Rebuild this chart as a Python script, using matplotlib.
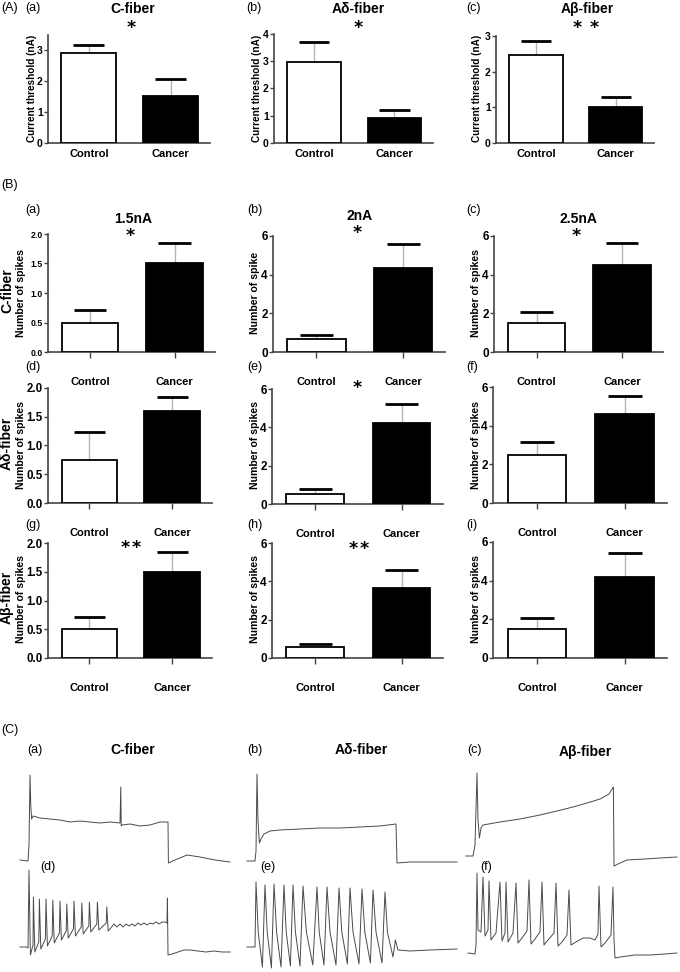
import matplotlib
matplotlib.use('Agg')
import matplotlib.pyplot as plt
import numpy as np

plt.rcParams['font.family'] = ['Liberation Sans', 'DejaVu Sans']

# ---------------- data ----------------
groups = ['Control', 'Cancer']

# Panel A: current threshold (nA), mean and mean+SEM
A_titles = ['C-fiber', 'Aδ-fiber', 'Aβ-fiber']
A_means = [[2.92, 1.53], [2.97, 0.92], [2.47, 1.00]]
A_upper = [[3.18, 2.08], [3.72, 1.20], [2.85, 1.28]]
A_ymax = [3.5, 4, 3]
A_yticks = [[0, 1, 2, 3], [0, 1, 2, 3, 4], [0, 1, 2, 3]]

# Panel B: number of spikes at 1.5/2/2.5 nA (rows: fibre type)
B_titles = ['1.5nA', '2nA', '2.5nA']
B_rows = ['C-fiber', 'Aδ-fiber', 'Aβ-fiber']
B_means = [[[0.50, 1.50], [0.65, 4.35], [1.50, 4.50]],
           [[0.75, 1.60], [0.50, 4.20], [2.50, 4.60]],
           [[0.50, 1.50], [0.55, 3.65], [1.50, 4.20]]]
B_upper = [[[0.72, 1.84], [0.87, 5.60], [2.07, 5.65]],
           [[1.23, 1.84], [0.80, 5.22], [3.15, 5.55]],
           [[0.72, 1.84], [0.72, 4.58], [2.05, 5.45]]]
B_ylabels = [['Number of spikes', 'Number of spike', 'Number of spikes'],
             ['Number of spikes', 'Number of spikes', 'Number of spikes'],
             ['Number of spikes', 'Number of spikes', 'Number of spikes']]

# Panel C: representative voltage traces (time ms, membrane potential mV)
Ca_t = [10, 50, 55, 60, 64, 68, 75, 110, 160, 210, 260, 310, 360, 410, 460, 510, 514, 516, 520, 560,
        610, 660, 710, 750, 752, 785, 845, 910, 985, 1060]
Ca_v = [-59, -60, -44, 26, -5, -18, -15, -17, -18, -19, -21, -20, -21, -22, -21, -22, 14, -25, -24, -23,
        -25, -24, -21, -21, -62, -59, -54, -56, -59, -61]

Cb_t = [10, 50, 55, 60, 65, 72, 80, 95, 125, 175, 275, 375, 475, 575, 675, 755, 760, 825, 925, 1060]
Cb_v = [-60, -60, -50, 27, -20, -42, -38, -33, -30, -29, -28, -27, -27, -26, -25, -23, -62, -61, -61, -61]

Cc_t = [5, 40, 50, 60, 65, 72, 80, 90, 175, 275, 375, 460, 540, 610, 675, 720, 742, 745, 765, 810,
        900, 975, 1060]
Cc_v = [-60, -60, -49, 23, -24, -42, -32, -29, -26, -23, -19, -15, -11, -7, -3, 2, 9, -70, -68, -64,
        -63, -62, -61]

Cd_t = [10, 45, 50, 55, 62, 75, 77, 84, 104, 107, 114, 137, 140, 147, 171, 174, 181, 207, 210, 217,
        241, 244, 251, 277, 280, 287, 316, 319, 326, 354, 357, 364, 394, 397, 404, 441, 444, 451, 460, 480,
        495, 510, 525, 540, 555, 570, 585, 600, 615, 630, 645, 660, 675, 690, 705, 720, 735, 745, 747, 750,
        770, 800, 830, 860, 900, 940, 980, 1020, 1060]
Cd_v = [-60, -60, -61, 17, -68, -58, -10, -65, -55, -12, -62, -52, -12, -59, -49, -13, -56, -46, -14, -53,
        -44, -17, -51, -42, -14, -49, -40, -16, -47, -39, -15, -45, -37, -15, -43, -36, -20, -44, -42, -37,
        -40, -37, -40, -37, -39, -37, -39, -36, -38, -36, -38, -36, -37, -35, -37, -35, -35, -36, -11, -68,
        -67, -65, -63, -63, -64, -65, -64, -65, -65]

Ce_t = [10, 50, 55, 66, 87, 100, 111, 132, 145, 158, 180, 195, 206, 227, 240, 252, 275, 290, 307, 339,
        360, 371, 395, 410, 425, 455, 470, 484, 512, 525, 540, 570, 585, 599, 627, 640, 655, 685, 700, 712,
        740, 752, 765, 825, 925, 1060]
Ce_v = [-60, -60, 5, -45, -80, 2, -45, -81, 3, -45, -80, 2, -45, -79, 2, -45, -79, 1, -45, -78,
        0, -45, -78, 0, -45, -78, -1, -45, -77, -1, -45, -77, -2, -45, -76, -3, -45, -76, -5, -45,
        -70, -53, -63, -64, -63, -62]

Cf_t = [15, 50, 55, 60, 65, 80, 90, 100, 115, 120, 130, 155, 175, 185, 200, 205, 215, 240, 255, 265,
        285, 310, 320, 330, 350, 375, 385, 395, 415, 445, 455, 465, 485, 510, 520, 530, 555, 590, 625, 650,
        665, 670, 680, 700, 730, 740, 745, 750, 775, 850, 925, 1000, 1060]
Cf_v = [-60, -61, -52, 20, -37, -39, 16, -43, -37, 12, -47, -40, 11, -48, -40, 11, -49, -40, 10, -50,
        -45, -38, 13, -51, -46, -39, 11, -52, -47, -40, 10, -53, -49, -42, 3, -52, -49, -45, -45, -47,
        -41, 7, -54, -50, -42, 6, -47, -65, -64, -62, -62, -61, -60]

# ---------------- figure ----------------
W, H = 680, 972
fig = plt.figure(figsize=(W / 100, H / 100), dpi=100)
SP = '#444444'


def add_ax(l, t, r, b):
    return fig.add_axes([l / W, 1 - b / H, (r - l) / W, (b - t) / H])


def ftxt(x, y, s, **kw):
    kw.setdefault('va', 'center')
    fig.text(x / W, 1 - y / H, s, **kw)


def star(x, y):
    fig.text(x / W, 1 - (y + 10) / H, '*', family='DejaVu Sans', fontweight='bold',
             fontsize=12.5, ha='center', va='baseline')


def bars(ax, means, upper, ymax, yticks, yfmt, ylsize, xpad, xtlen):
    x = np.arange(len(groups))
    ax.bar(x, means, width=0.67, color=['white', 'black'], edgecolor='black',
           linewidth=1.3, zorder=3)
    ax.vlines(x, means, upper, color='#b5b5b5', lw=1.0, zorder=2)
    ax.hlines(upper, x - 0.19, x + 0.19, color='black', lw=2.0, zorder=4)
    ax.set_xlim(-0.5, 1.48)
    ax.set_ylim(0, ymax)
    ax.set_xticks(x)
    ax.set_xticklabels(groups, fontweight='bold', fontsize=8)
    ax.set_yticks(yticks)
    ax.set_yticklabels([yfmt.format(v) for v in yticks], fontweight='bold', fontsize=ylsize)
    for s in ['top', 'right']:
        ax.spines[s].set_visible(False)
    for s in ['left', 'bottom']:
        ax.spines[s].set_color(SP)
        ax.spines[s].set_linewidth(1.2)
    ax.tick_params(axis='y', length=3, width=1, color=SP, pad=0.8)
    ax.tick_params(axis='x', length=xtlen, width=1, color=SP, pad=xpad)
    ax.patch.set_visible(False)


# ---- Panel A ----
A_boxes = [(48, 35, 210, 143), (274, 34, 433, 143), (496, 36, 654, 143)]
A_lab_x = [25, 246, 466]
A_title_x = [133, 358, 587]
A_ylab_x = [32, 257, 477]
A_stars = [[131], [358], [577, 594]]
ftxt(1, 8, '(A)', fontsize=9)
for i in range(3):
    ax = add_ax(*A_boxes[i])
    bars(ax, A_means[i], A_upper[i], A_ymax[i], A_yticks[i], '{:g}', 7.5, 4, 0)
    ftxt(A_lab_x[i], 8, '(' + 'abc'[i] + ')', fontsize=9)
    ftxt(A_title_x[i], 9, A_titles[i], fontsize=10, fontweight='bold', ha='center')
    ftxt(A_ylab_x[i], 88, 'Current threshold (nA)', fontsize=7.2, fontweight='bold',
         rotation=90, ha='center')
    for sx in A_stars[i]:
        star(sx, 23)

# ---- Panel B ----
B_boxes = [[(48, 234, 215, 352), (273, 236, 445, 352), (494, 236, 663, 352)],
           [(48, 388, 212, 503), (272, 389, 443, 504), (493, 387, 667, 503)],
           [(48, 543, 212, 658), (272, 543, 443, 658), (493, 542, 667, 658)]]
B_lab_y = [210, 367, 525]
B_lab_x = [25, 247, 466]
B_ylab_x = [21.5, 255, 476]
B_ylab_y = [293, 445, 599]
B_row_lab_x = 7
B_title_y = [219, 216, 219]
B_title_x = [133, 360, 578]
B_stars = {(0, 0): ([130], 231), (0, 1): ([357], 228), (0, 2): ([576], 231),
           (1, 1): ([357], 383), (2, 0): ([125, 136], 543), (2, 1): ([353, 364], 544)}
ftxt(1, 185, '(B)', fontsize=9)
letters = 'abcdefghi'
for r in range(3):
    for c in range(3):
        ax = add_ax(*B_boxes[r][c])
        if c == 0:
            yt, fmt, ls, ymax = [0, 0.5, 1.0, 1.5, 2.0], '{:.1f}', (6.3 if r == 0 else 8.3), 2
        else:
            yt, fmt, ls, ymax = [0, 2, 4, 6], '{:g}', 8.5, 6
        bars(ax, B_means[r][c], B_upper[r][c], ymax, yt, fmt, ls, 14, 4)
        ftxt(B_lab_x[c], B_lab_y[r], '(' + letters[3 * r + c] + ')', fontsize=9)
        ftxt(B_ylab_x[c], B_ylab_y[r], B_ylabels[r][c], fontsize=7.6, fontweight='bold',
             rotation=90, ha='center')
        if (r, c) in B_stars:
            xs, sy = B_stars[(r, c)]
            for sx in xs:
                star(sx, sy)
    ftxt(B_row_lab_x, B_ylab_y[r] - 2, B_rows[r], fontsize=10, fontweight='bold',
         rotation=90, ha='center')
for c in range(3):
    ftxt(B_title_x[c], B_title_y[c], B_titles[c], fontsize=10, fontweight='bold', ha='center')

# ---- Panel C ----
def trace_ax(L, B, top, bottom, t, v):
    ax = add_ax(L, top, L + 214, bottom)
    ax.plot(t, v, color='#4a4a4a', lw=0.7)
    ax.set_xlim(0, 214 * 5)
    ax.set_ylim(-60 - (bottom - B), -60 + (B - top))
    ax.axis('off')

trace_ax(18, 861, 765, 870, Ca_t, Ca_v)
trace_ax(245, 861, 765, 870, Cb_t, Cb_v)
trace_ax(465, 856, 765, 870, Cc_t, Cc_v)
trace_ax(18, 947, 860, 972, Cd_t, Cd_v)
trace_ax(245, 947, 860, 972, Ce_t, Ce_v)
trace_ax(465, 953, 860, 972, Cf_t, Cf_v)

ftxt(1, 730, '(C)', fontsize=9)
C_titles = A_titles
for i, (lx, tx, ty) in enumerate([(27, 133, 750), (247, 361, 750), (467, 585, 752)]):
    ftxt(lx, 750, '(' + 'abc'[i] + ')', fontsize=9)
    ftxt(tx, ty, C_titles[i], fontsize=10, fontweight='bold', ha='center')
for i, lx in enumerate([40, 260, 480]):
    ftxt(lx, 867, '(' + 'def'[i] + ')', fontsize=9)

fig.savefig('out.png', dpi=100)
